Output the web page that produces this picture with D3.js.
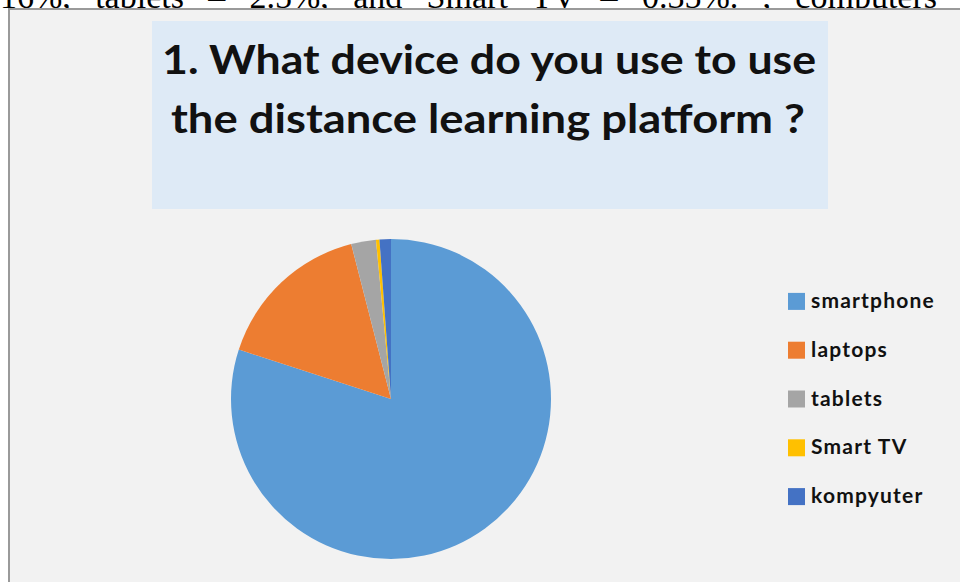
<!DOCTYPE html>
<html>
<head>
<meta charset="utf-8">
<script src="https://cdn.jsdelivr.net/npm/d3@7"></script>
<style>
  body { margin: 0; background: #ffffff; }
  svg { display: block; }
</style>
</head>
<body>
<div id="chart"></div>
<script>
// data
const categories = ["smartphone", "laptops", "tablets", "Smart TV", "kompyuter"];
const shares = [80, 16, 2.5, 0.35, 1.15];
const colors = ["#5b9bd5", "#ed7d31", "#a5a5a5", "#ffc000", "#4472c4"];
const titleLines = ["1. What device do you use to use", "the distance learning platform ?"];
const aboveText = "16%, tablets \u2013 2.5%, and Smart TV \u2013 0.35%. , computers";

(function() {
    const width = 960, height = 582;

    const svg = d3.select("#chart")
        .append("svg")
        .attr("width", width)
        .attr("height", height);

    // line of body text cut off above the figure
    const above = svg.append("text")
        .attr("x", 0)
        .attr("y", 8)
        .style("font-family", "'Liberation Serif', 'Times New Roman', serif")
        .style("font-size", "34px")
        .style("fill", "#000")
        .text(aboveText);
    const natural = above.node().getComputedTextLength();
    const gaps = aboveText.split(" ").length - 1;
    above.style("word-spacing", ((937 - natural) / gaps) + "px");

    // chart frame
    svg.append("rect")
        .attr("x", 9)
        .attr("y", 9)
        .attr("width", 980)
        .attr("height", 600)
        .attr("fill", "#f2f2f2")
        .attr("stroke", "#9a9a9a")
        .attr("stroke-width", 2);

    // title box
    svg.append("rect")
        .attr("x", 152)
        .attr("y", 21)
        .attr("width", 676)
        .attr("height", 188)
        .attr("fill", "#deeaf6");

    const titleSpans = [[162, 74, 654], [171, 133, 634]];
    svg.append("g")
        .selectAll("text")
        .data(titleLines)
        .join("text")
        .attr("x", (d, i) => titleSpans[i][0])
        .attr("y", (d, i) => titleSpans[i][1])
        .attr("textLength", (d, i) => titleSpans[i][2])
        .attr("lengthAdjust", "spacingAndGlyphs")
        .style("font-family", "Lato, 'Open Sans', sans-serif")
        .style("font-weight", "bold")
        .style("font-size", "41px")
        .style("fill", "#111")
        .text(d => d);

    // pie
    const radius = 160;
    const pie = d3.pie().sort(null).value(d => d.value);
    const arc = d3.arc().innerRadius(0).outerRadius(radius);
    const pieData = pie(categories.map((c, i) => ({ name: c, value: shares[i] })));

    svg.append("g")
        .attr("transform", "translate(391,399)")
        .selectAll("path")
        .data(pieData)
        .join("path")
        .attr("d", arc)
        .attr("fill", (d, i) => colors[i]);

    // legend
    const ly = d3.scaleBand()
        .domain(categories)
        .range([277, 521]);

    const legend = svg.append("g")
        .selectAll("g")
        .data(categories)
        .join("g")
        .attr("transform", d => "translate(788," + (ly(d) + ly.bandwidth() / 2) + ")");

    legend.append("rect")
        .attr("x", 0)
        .attr("y", -8.5)
        .attr("width", 17)
        .attr("height", 17)
        .attr("fill", (d, i) => colors[i]);

    legend.append("text")
        .attr("x", 23)
        .attr("y", 6.5)
        .style("font-family", "Lato, 'Open Sans', sans-serif")
        .style("font-weight", "bold")
        .style("font-size", "21px")
        .style("letter-spacing", "1.2px")
        .style("fill", "#111")
        .text(d => d);
})();
</script>
</body>
</html>
